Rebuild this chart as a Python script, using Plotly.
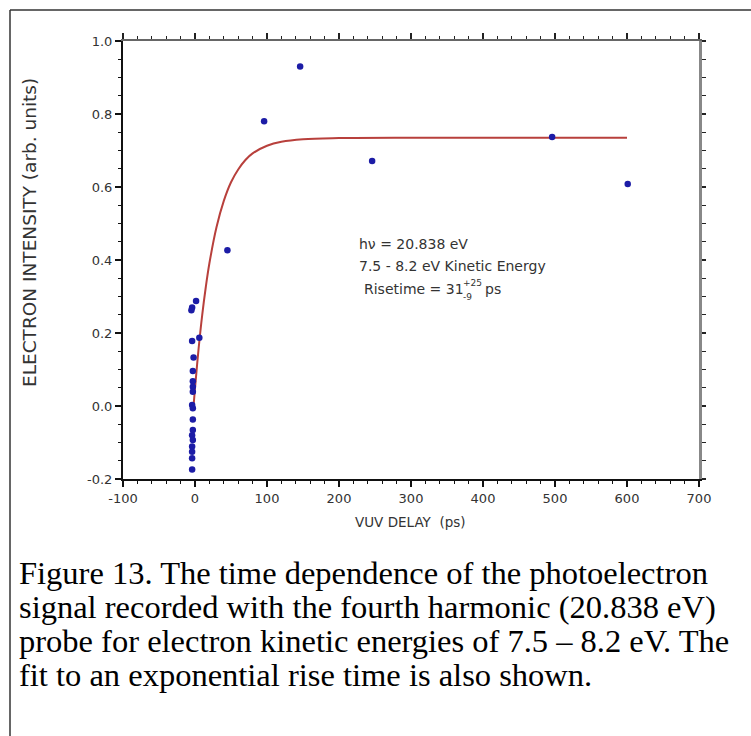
import plotly.graph_objects as go

# ---- data ----
delay_ps = [1.5, -4, -5, 6, -4, -2, -3, -3, -3, -3, -4, -3, -3, -3, -4, -3, -4, -4, -4, -4,
            45, 96, 146, 246, 496, 601]
intensity = [0.288, 0.270, 0.262, 0.187, 0.178, 0.133, 0.096, 0.068, 0.053, 0.039, 0.003,
             -0.006, -0.037, -0.066, -0.080, -0.093, -0.111, -0.125, -0.143, -0.174,
             0.427, 0.780, 0.930, 0.671, 0.737, 0.608]

fit_delay = [-2, 0, 5, 10, 15, 20, 30, 40, 50, 60, 70, 80, 100, 120, 150, 200, 300, 400, 500, 600]
fit_value = [0.0, 0.049, 0.157, 0.249, 0.326, 0.391, 0.491, 0.562, 0.613, 0.648, 0.674, 0.692,
             0.713, 0.724, 0.731, 0.734, 0.735, 0.735, 0.735, 0.735]

x_ticks = [-100, 0, 100, 200, 300, 400, 500, 600, 700]
y_ticks = [-0.2, 0.0, 0.2, 0.4, 0.6, 0.8, 1.0]
y_tick_labels = ["-0.2", "0.0", "0.2", "0.4", "0.6", "0.8", "1.0"]

info_lines = ["hν = 20.838 eV", "7.5 - 8.2 eV Kinetic Energy"]
caption_lines = [
    "Figure 13. The time dependence of the photoelectron",
    "signal recorded with the fourth harmonic (20.838 eV)",
    "probe for electron kinetic energies of 7.5 – 8.2 eV. The",
    "fit to an exponential rise time is also shown.",
]

# ---- layout geometry (pixels) ----
W, H = 751, 736
L, R, T, B = 123, 699, 41, 479


def px(x):
    return (x - L) / (R - L)


def py(y):
    return (B - y) / (B - T)


SANS = "DejaVu Sans"
SERIF = "Liberation Serif"
TXT = "#333333"

fig = go.Figure()
fig.add_trace(go.Scatter(x=fit_delay, y=fit_value, mode="lines",
                         line=dict(color="#b8403c", width=2, shape="spline"),
                         hoverinfo="skip", showlegend=False))
fig.add_trace(go.Scatter(x=delay_ps, y=intensity, mode="markers",
                         marker=dict(color="#1c1ca6", size=6.5),
                         showlegend=False))
# invisible helper trace so the top/right mirror axes are drawn
fig.add_trace(go.Scatter(x=[x_ticks[0]], y=[y_ticks[0]], xaxis="x2", yaxis="y2",
                         mode="markers", marker=dict(opacity=0), hoverinfo="skip",
                         showlegend=False))

xr = [x_ticks[0], x_ticks[-1]]
yr = [y_ticks[0], y_ticks[-1]]

fig.update_layout(
    width=W, height=H,
    margin=dict(l=L, r=W - R, t=T, b=H - B),
    paper_bgcolor="white", plot_bgcolor="white",
    showlegend=False,
    xaxis=dict(range=xr, tickvals=x_ticks, ticktext=[str(v) for v in x_ticks],
               showgrid=False, zeroline=False, showline=True, linecolor="#111",
               linewidth=2, ticks="outside", ticklen=6, tickwidth=1.5, tickcolor="#111",
               minor=dict(dtick=20, ticks="outside", ticklen=3, tickwidth=1.2,
                          tickcolor="#111", showgrid=False),
               tickfont=dict(family=SANS, size=13, color=TXT)),
    yaxis=dict(range=yr, tickvals=y_ticks, ticktext=y_tick_labels,
               showgrid=False, zeroline=False, showline=True, linecolor="#111",
               linewidth=2, ticks="outside", ticklen=6, tickwidth=1.5, tickcolor="#111",
               minor=dict(dtick=0.05, ticks="outside", ticklen=3, tickwidth=1.2,
                          tickcolor="#111", showgrid=False),
               tickfont=dict(family=SANS, size=13, color=TXT)),
    xaxis2=dict(range=xr, overlaying="x", side="top", anchor="y2",
                tickvals=x_ticks, showticklabels=False, showgrid=False, zeroline=False,
                showline=True, linecolor="#666", linewidth=2, ticks="outside",
                ticklen=6, tickwidth=1.5, tickcolor="#222",
                minor=dict(dtick=20, ticks="outside", ticklen=3, tickwidth=1.2,
                           tickcolor="#222", showgrid=False)),
    yaxis2=dict(range=yr, overlaying="y", side="right", anchor="x2",
                tickvals=y_ticks, showticklabels=False, showgrid=False, zeroline=False,
                showline=True, linecolor="#888", linewidth=3, ticks="outside",
                ticklen=4, tickwidth=1.5, tickcolor="#222",
                minor=dict(dtick=0.05, ticks="outside", ticklen=4, tickwidth=1.2,
                           tickcolor="#222", showgrid=False)),
)

ann = []
# axis titles
ann.append(dict(text="VUV DELAY  (ps)", x=px(410), y=py(522), xref="paper", yref="paper",
                showarrow=False, xanchor="center", yanchor="middle",
                font=dict(family=SANS, size=13.5, color=TXT)))
ann.append(dict(text="ELECTRON INTENSITY (arb. units)", x=px(29), y=py(233),
                xref="paper", yref="paper", showarrow=False, textangle=-90,
                xanchor="center", yanchor="middle",
                font=dict(family=SANS, size=18.5, color=TXT)))
# info text
for i, line in enumerate(info_lines):
    ann.append(dict(text=line, x=px(357), y=py(244 + 22 * i), xref="paper", yref="paper",
                    showarrow=False, xanchor="left", yanchor="middle",
                    font=dict(family=SANS, size=14, color=TXT)))
ann.append(dict(text="Risetime = 31", x=px(362), y=py(289), xref="paper", yref="paper",
                showarrow=False, xanchor="left", yanchor="middle",
                font=dict(family=SANS, size=14, color=TXT)))
ann.append(dict(text="+25", x=px(461), y=py(283), xref="paper", yref="paper",
                showarrow=False, xanchor="left", yanchor="middle",
                font=dict(family=SANS, size=9, color=TXT)))
ann.append(dict(text="-9", x=px(461), y=py(297), xref="paper", yref="paper",
                showarrow=False, xanchor="left", yanchor="middle",
                font=dict(family=SANS, size=9, color=TXT)))
ann.append(dict(text="ps", x=px(483), y=py(289), xref="paper", yref="paper",
                showarrow=False, xanchor="left", yanchor="middle",
                font=dict(family=SANS, size=14, color=TXT)))
# caption
for i, line in enumerate(caption_lines):
    ann.append(dict(text=line, x=px(17), y=py(573 + 34 * i), xref="paper", yref="paper",
                    showarrow=False, xanchor="left", yanchor="middle",
                    font=dict(family=SERIF, size=32.5, color="#000")))
fig.update_layout(annotations=ann)

# outer frame (top and left edges visible)
fig.add_shape(type="line", xref="paper", yref="paper", x0=px(10), x1=px(760),
              y0=py(10), y1=py(10), line=dict(color="#333", width=1.5))
fig.add_shape(type="line", xref="paper", yref="paper", x0=px(10), x1=px(10),
              y0=py(10), y1=py(745), line=dict(color="#333", width=1.5))

fig.write_html("out.html", config={"displayModeBar": False},
               post_script="document.body.style.margin='0px';")
